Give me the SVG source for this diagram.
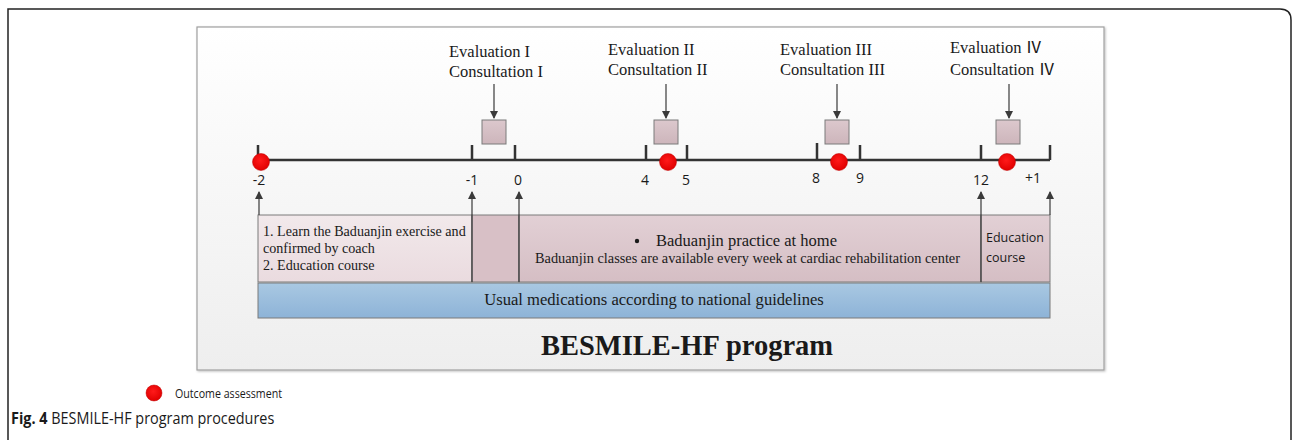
<svg xmlns="http://www.w3.org/2000/svg" width="1292" height="440" viewBox="0 0 1292 440">
<defs>
<linearGradient id="panelG" x1="0" y1="0" x2="0" y2="1"><stop offset="0" stop-color="#ffffff"/><stop offset="1" stop-color="#eeeeee"/></linearGradient>
<linearGradient id="pinkG" x1="0" y1="0" x2="0" y2="1"><stop offset="0" stop-color="#e2d0d5"/><stop offset="1" stop-color="#d5bec4"/></linearGradient>
<linearGradient id="lightG" x1="0" y1="0" x2="0" y2="1"><stop offset="0" stop-color="#f2e9eb"/><stop offset="1" stop-color="#eadbdf"/></linearGradient>
<linearGradient id="blueG" x1="0" y1="0" x2="0" y2="1"><stop offset="0" stop-color="#a9c8e2"/><stop offset="1" stop-color="#8db3d7"/></linearGradient>
<linearGradient id="boxG" x1="0" y1="0" x2="0" y2="1"><stop offset="0" stop-color="#dcc8cd"/><stop offset="1" stop-color="#cdb5bb"/></linearGradient>
<radialGradient id="redG" cx="0.45" cy="0.4" r="0.6"><stop offset="0" stop-color="#ff1a1a"/><stop offset="1" stop-color="#e00000"/></radialGradient>
<marker id="ah" markerWidth="8" markerHeight="8" refX="7" refY="4" orient="auto" markerUnits="userSpaceOnUse" viewBox="0 0 8 8"><path d="M0,0 L8,4 L0,8 Z" fill="#3a3a3a"/></marker>
<filter id="sh" x="-5%" y="-5%" width="110%" height="110%"><feDropShadow dx="1" dy="1" stdDeviation="1" flood-color="#000" flood-opacity="0.25"/></filter>
</defs>
<style>
.serif{font-family:"Liberation Serif","Times New Roman","Noto Sans CJK SC",serif;fill:#1a1a1a}
.sans{font-family:"Open Sans","Liberation Sans",Arial,sans-serif;fill:#1a1a1a}
.tick{stroke:#333;stroke-width:2.5;fill:none}
.conn{stroke:#3a3a3a;stroke-width:1.2;fill:none}
.sq{fill:url(#boxG);stroke:#7a7a7a;stroke-width:1}
.dot{fill:url(#redG);stroke:#c00000;stroke-width:0.5}
.cell{stroke:#7a7a7a;stroke-width:1}
.ev{font-size:16.5px}
</style>
<rect width="1292" height="440" fill="#ffffff"/>
<path d="M8,460 L8,9 L1280,9 Q1291,9 1291,20 L1291,460" fill="none" stroke="#222" stroke-width="1.5"/>
<g id="panel"><rect x="197" y="27" width="907" height="343" fill="url(#panelG)" stroke="#a0a0a0" stroke-width="1.2" filter="url(#sh)"/></g>

<g id="timeline">
<line x1="258" y1="160" x2="1050" y2="160" class="tick" stroke-width="3"/>
<path class="tick" d="M258,145V160 M472,145V160 M515,145V160 M646,145V160 M687,145V160 M817,143V160 M860,145V160 M981,145V160 M1050,145V160"/>
<g class="sans" font-size="14" text-anchor="middle">
<text x="259" y="185">-2</text><text x="472" y="185">-1</text><text x="518" y="185">0</text>
<text x="645" y="185">4</text><text x="686" y="185">5</text><text x="816" y="183">8</text>
<text x="860" y="183">9</text><text x="981" y="185">12</text><text x="1033" y="183">+1</text>
</g>
</g>

<g id="outcomes">
<circle class="dot" cx="261" cy="162" r="8.5"/>
<circle class="dot" cx="668" cy="162" r="8.5"/>
<circle class="dot" cx="839" cy="162" r="8.5"/>
<circle class="dot" cx="1007" cy="162" r="8.5"/>
</g>

<g id="eval1"><text class="serif ev" x="449" y="57">Evaluation I</text><text class="serif ev" x="449" y="77">Consultation I</text><rect class="sq" x="482" y="120" width="24" height="24"/></g>
<g id="eval2"><text class="serif ev" x="608" y="55">Evaluation II</text><text class="serif ev" x="608" y="75">Consultation II</text><rect class="sq" x="654" y="120" width="24" height="24"/></g>
<g id="eval3"><text class="serif ev" x="780" y="55">Evaluation III</text><text class="serif ev" x="780" y="75">Consultation III</text><rect class="sq" x="825" y="120" width="24" height="24"/></g>
<g id="eval4"><text class="serif ev" x="950" y="53">Evaluation Ⅳ</text><text class="serif ev" x="950" y="75">Consultation Ⅳ</text><rect class="sq" x="996" y="120" width="24" height="24"/></g>

<g id="row">
<rect class="cell" x="258" y="215" width="214" height="67" fill="url(#lightG)"/>
<rect class="cell" x="472" y="215" width="47" height="67" fill="#d8c0c6"/>
<rect class="cell" x="519" y="215" width="462" height="67" fill="url(#pinkG)"/>
<rect class="cell" x="981" y="215" width="69" height="67" fill="url(#pinkG)"/>
<g class="serif" font-size="14.1">
<text x="263" y="236">1. Learn the Baduanjin exercise and</text>
<text x="263" y="253">confirmed by coach</text>
<text x="263" y="270">2. Education course</text>
</g>
<circle cx="637" cy="241" r="2.2" fill="#1a1a1a"/>
<text class="serif" font-size="16.5" x="656" y="246">Baduanjin practice at home</text>
<text class="serif" font-size="14" x="535" y="263" textLength="425" lengthAdjust="spacingAndGlyphs">Baduanjin classes are available every week at cardiac rehabilitation center</text>
<text class="sans" font-size="12.5" x="986" y="242">Education</text>
<text class="sans" font-size="12.5" x="986" y="262">course</text>
</g>

<g id="meds">
<rect class="cell" x="258" y="283" width="792" height="35" fill="url(#blueG)"/>
<text class="serif" font-size="16.6" x="654" y="305" text-anchor="middle">Usual medications according to national guidelines</text>
</g>

<g id="connectors">
<line class="conn" x1="494" y1="84" x2="494" y2="118" marker-end="url(#ah)"/>
<line class="conn" x1="666" y1="84" x2="666" y2="118" marker-end="url(#ah)"/>
<line class="conn" x1="837" y1="84" x2="837" y2="118" marker-end="url(#ah)"/>
<line class="conn" x1="1009" y1="84" x2="1009" y2="118" marker-end="url(#ah)"/>
<line class="conn" x1="259" y1="215" x2="259" y2="192" marker-end="url(#ah)"/>
<line class="conn" x1="472" y1="282" x2="472" y2="192" marker-end="url(#ah)"/>
<line class="conn" x1="519" y1="282" x2="519" y2="192" marker-end="url(#ah)"/>
<line class="conn" x1="981" y1="282" x2="981" y2="192" marker-end="url(#ah)"/>
<line class="conn" x1="1050" y1="215" x2="1050" y2="192" marker-end="url(#ah)"/>
</g>

<text class="serif" font-size="28.5" font-weight="bold" x="687" y="355" text-anchor="middle">BESMILE-HF program</text>

<g id="legend">
<circle class="dot" cx="154" cy="393" r="8"/>
<text class="sans" font-size="12.5" x="175" y="398" textLength="107" lengthAdjust="spacingAndGlyphs">Outcome assessment</text>
</g>
<g transform="translate(11,424) scale(0.9,1)">
<text class="sans" font-size="16" x="0" y="0" fill="#333"><tspan font-weight="bold">Fig. 4</tspan> BESMILE-HF program procedures</text>
</g>
</svg>
